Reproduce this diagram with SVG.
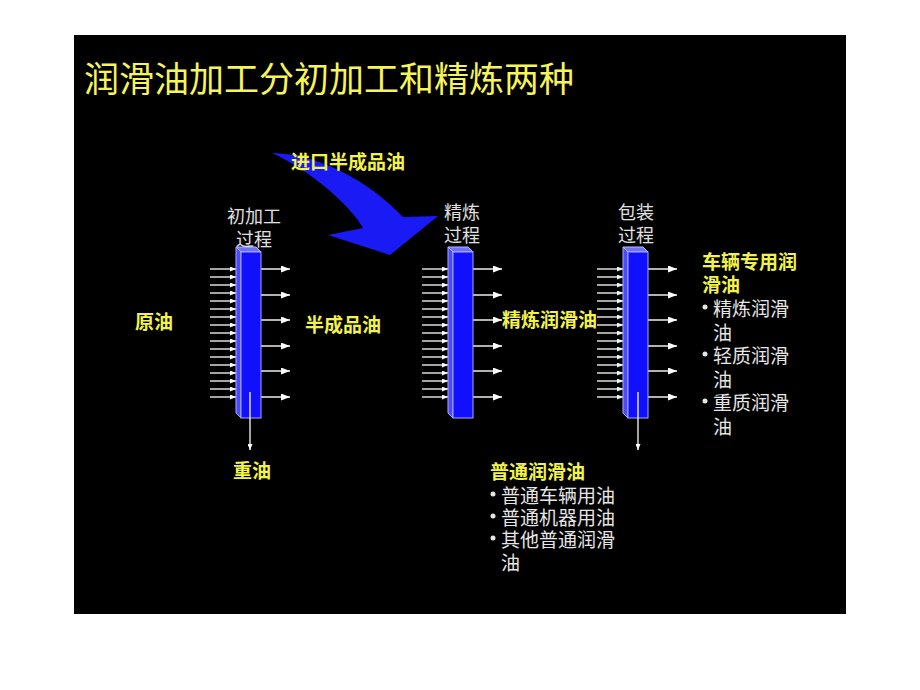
<svg xmlns="http://www.w3.org/2000/svg" width="920" height="690" viewBox="0 0 920 690">
<style>
.t{font-family:"Liberation Sans","Noto Sans CJK SC",sans-serif;}
.y{fill:#f2f24c;font-size:19px;font-weight:bold;}
.w{fill:#e6e6e6;font-size:19px;}
.lb{fill:#e0e0e0;font-size:18px;text-anchor:middle;}
.front{fill:#1010ff;stroke:#a8a8ff;stroke-width:1;}
.side{fill:#4a4aff;stroke:#a8a8ff;stroke-width:1;}
.top{fill:#7070ff;stroke:#b8b8ff;stroke-width:1;}
.in line{stroke:#fff;stroke-width:1.3;marker-end:url(#ahs);}
.out line{stroke:#fff;stroke-width:1.4;marker-end:url(#ah);}
.dn{stroke:#fff;stroke-width:1.3;marker-end:url(#ahs);}
</style>
<defs>
<marker id="ah" markerWidth="9" markerHeight="7" refX="9" refY="3.5" orient="auto" markerUnits="userSpaceOnUse"><path d="M0,0 L9,3.5 L0,7 Z" fill="#fff"/></marker>
<marker id="ahs" markerWidth="6" markerHeight="5" refX="6" refY="2.5" orient="auto" markerUnits="userSpaceOnUse"><path d="M0,0 L6,2.5 L0,5 Z" fill="#fff"/></marker>
</defs>
<rect x="0" y="0" width="920" height="690" fill="#fff"/>
<rect x="74" y="35" width="772" height="579" fill="#000"/>
<text class="t" x="84" y="92" font-size="35" fill="#f5f55a">润滑油加工分初加工和精炼两种</text>

<g id="connectors">
  <path id="import-arrow" d="M272,153 C318,154 368,180 403,217 L438,216 L390,255 L328,235 L363,228 C350,205 310,170 272,153 Z" fill="#1a1af5"/>
  <g class="in">
    <line x1="210" y1="269" x2="236" y2="269"/><line x1="210" y1="277" x2="236" y2="277"/><line x1="210" y1="285" x2="236" y2="285"/><line x1="210" y1="293" x2="236" y2="293"/><line x1="210" y1="301" x2="236" y2="301"/><line x1="210" y1="309" x2="236" y2="309"/><line x1="210" y1="317" x2="236" y2="317"/><line x1="210" y1="325" x2="236" y2="325"/><line x1="210" y1="333" x2="236" y2="333"/><line x1="210" y1="341" x2="236" y2="341"/><line x1="210" y1="349" x2="236" y2="349"/><line x1="210" y1="357" x2="236" y2="357"/><line x1="210" y1="365" x2="236" y2="365"/><line x1="210" y1="373" x2="236" y2="373"/><line x1="210" y1="381" x2="236" y2="381"/><line x1="210" y1="389" x2="236" y2="389"/><line x1="210" y1="397" x2="236" y2="397"/>
  </g>
  <g class="in">
    <line x1="422" y1="269" x2="448" y2="269"/><line x1="422" y1="277" x2="448" y2="277"/><line x1="422" y1="285" x2="448" y2="285"/><line x1="422" y1="293" x2="448" y2="293"/><line x1="422" y1="301" x2="448" y2="301"/><line x1="422" y1="309" x2="448" y2="309"/><line x1="422" y1="317" x2="448" y2="317"/><line x1="422" y1="325" x2="448" y2="325"/><line x1="422" y1="333" x2="448" y2="333"/><line x1="422" y1="341" x2="448" y2="341"/><line x1="422" y1="349" x2="448" y2="349"/><line x1="422" y1="357" x2="448" y2="357"/><line x1="422" y1="365" x2="448" y2="365"/><line x1="422" y1="373" x2="448" y2="373"/><line x1="422" y1="381" x2="448" y2="381"/><line x1="422" y1="389" x2="448" y2="389"/><line x1="422" y1="397" x2="448" y2="397"/>
  </g>
  <g class="in">
    <line x1="597" y1="269" x2="623" y2="269"/><line x1="597" y1="277" x2="623" y2="277"/><line x1="597" y1="285" x2="623" y2="285"/><line x1="597" y1="293" x2="623" y2="293"/><line x1="597" y1="301" x2="623" y2="301"/><line x1="597" y1="309" x2="623" y2="309"/><line x1="597" y1="317" x2="623" y2="317"/><line x1="597" y1="325" x2="623" y2="325"/><line x1="597" y1="333" x2="623" y2="333"/><line x1="597" y1="341" x2="623" y2="341"/><line x1="597" y1="349" x2="623" y2="349"/><line x1="597" y1="357" x2="623" y2="357"/><line x1="597" y1="365" x2="623" y2="365"/><line x1="597" y1="373" x2="623" y2="373"/><line x1="597" y1="381" x2="623" y2="381"/><line x1="597" y1="389" x2="623" y2="389"/><line x1="597" y1="397" x2="623" y2="397"/>
  </g>
  <g class="out">
    <line x1="261" y1="269" x2="290" y2="269"/><line x1="261" y1="295" x2="290" y2="295"/><line x1="261" y1="320" x2="290" y2="320"/><line x1="261" y1="346" x2="290" y2="346"/><line x1="261" y1="371" x2="290" y2="371"/><line x1="261" y1="397" x2="290" y2="397"/>
  </g>
  <g class="out">
    <line x1="473" y1="269" x2="502" y2="269"/><line x1="473" y1="295" x2="502" y2="295"/><line x1="473" y1="320" x2="502" y2="320"/><line x1="473" y1="346" x2="502" y2="346"/><line x1="473" y1="371" x2="502" y2="371"/><line x1="473" y1="397" x2="502" y2="397"/>
  </g>
  <g class="out">
    <line x1="648" y1="269" x2="677" y2="269"/><line x1="648" y1="295" x2="677" y2="295"/><line x1="648" y1="320" x2="677" y2="320"/><line x1="648" y1="346" x2="677" y2="346"/><line x1="648" y1="371" x2="677" y2="371"/><line x1="648" y1="397" x2="677" y2="397"/>
  </g>
</g>

<g id="col1">
  <polygon class="side" points="236,247 241,252 241,418 236,413"/>
  <polygon class="top" points="236,247 256,247 261,252 241,252"/>
  <rect class="front" x="241" y="252" width="20" height="166"/>
  <text class="t lb" x="254" y="223">初加工<tspan x="254" y="246">过程</tspan></text>
</g>
<g id="col2">
  <polygon class="side" points="448,247 453,252 453,418 448,413"/>
  <polygon class="top" points="448,247 468,247 473,252 453,252"/>
  <rect class="front" x="453" y="252" width="20" height="166"/>
  <text class="t lb" x="462" y="219">精炼<tspan x="462" y="242">过程</tspan></text>
</g>
<g id="col3">
  <polygon class="side" points="623,247 628,252 628,418 623,413"/>
  <polygon class="top" points="623,247 643,247 648,252 628,252"/>
  <rect class="front" x="628" y="252" width="20" height="166"/>
  <text class="t lb" x="636" y="219">包装<tspan x="636" y="242">过程</tspan></text>
</g>

<g id="down-arrows">
  <line class="dn" x1="250" y1="392" x2="250" y2="450"/>
  <line class="dn" x1="638" y1="392" x2="638" y2="450"/>
</g>

<g id="labels">
  <text class="t y" x="291" y="169">进口半成品油</text>
  <text class="t y" x="135" y="329">原油</text>
  <text class="t y" x="305" y="332">半成品油</text>
  <text class="t y" x="502" y="327">精炼润滑油</text>
  <text class="t y" x="233" y="478">重油</text>
</g>

<g id="vehicle-oil">
  <text class="t y" x="702" y="269">车辆专用润<tspan x="702" y="292">滑油</tspan></text>
  <circle cx="705" cy="307" r="2.5" fill="#e6e6e6"/>
  <circle cx="705" cy="354" r="2.5" fill="#e6e6e6"/>
  <circle cx="705" cy="401" r="2.5" fill="#e6e6e6"/>
  <text class="t w" x="713" y="316">精炼润滑<tspan x="713" y="340">油</tspan><tspan x="713" y="363">轻质润滑</tspan><tspan x="713" y="387">油</tspan><tspan x="713" y="410">重质润滑</tspan><tspan x="713" y="434">油</tspan></text>
</g>

<g id="common-oil">
  <text class="t y" x="490" y="479">普通润滑油</text>
  <circle cx="493" cy="494" r="2.5" fill="#e6e6e6"/>
  <circle cx="493" cy="516" r="2.5" fill="#e6e6e6"/>
  <circle cx="493" cy="538" r="2.5" fill="#e6e6e6"/>
  <text class="t w" x="501" y="503">普通车辆用油<tspan x="501" y="525">普通机器用油</tspan><tspan x="501" y="547">其他普通润滑</tspan><tspan x="501" y="570">油</tspan></text>
</g>
</svg>
